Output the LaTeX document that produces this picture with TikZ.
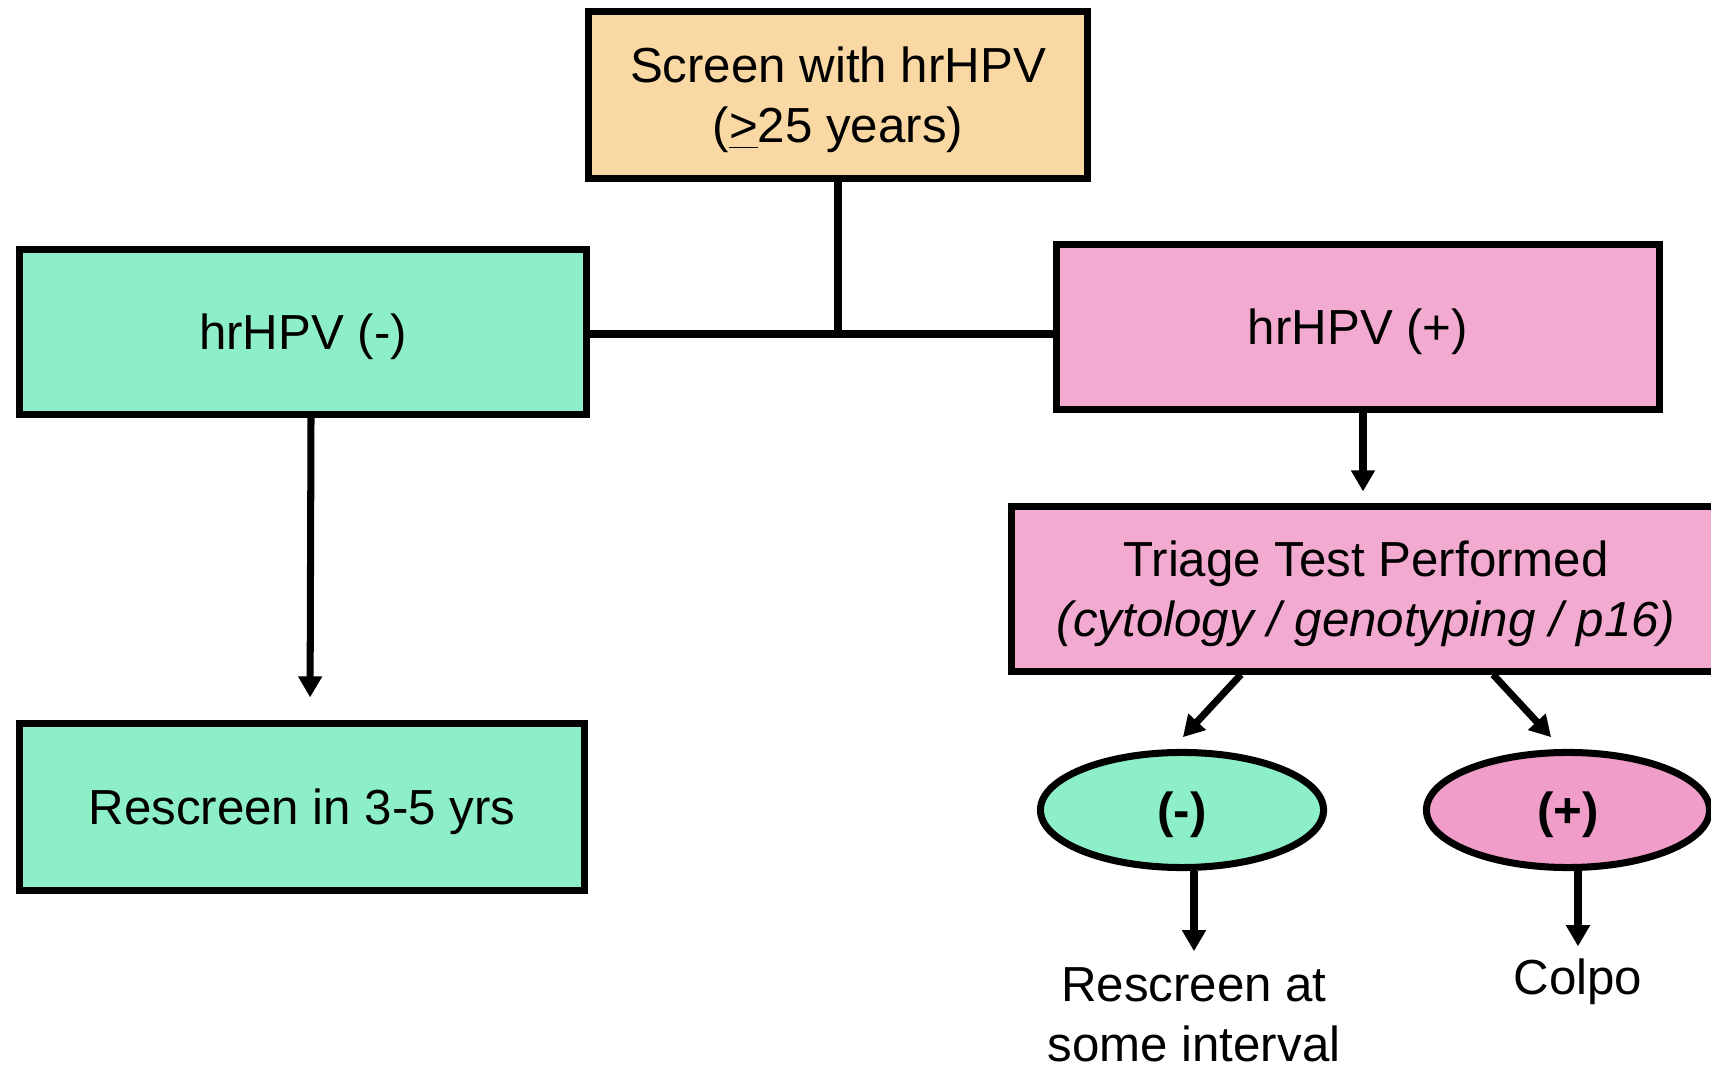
\documentclass[tikz,border=0pt]{standalone}
\usepackage{fontspec}
\setmainfont{Liberation Sans}
\usepackage{xcolor}
\usepackage{tikz}
\usetikzlibrary{calc,shapes.geometric,arrows.meta}

\definecolor{screentan}{HTML}{F9D8A4}
\definecolor{hpvgreen}{HTML}{8DEFC7}
\definecolor{hpvpink}{HTML}{F2AAD0}
\definecolor{ovalpink}{HTML}{F09DC9}

\begin{document}
\begin{tikzpicture}[x=0.01cm,y=-0.01cm,
                box/.style={draw=black,line width=2pt,align=center,inner sep=0pt,text depth=0pt,
                        font=\fontsize{14}{17}\selectfont},
                oval/.style={box,ellipse,minimum width=2.83cm,minimum height=1.15cm,
                        font=\fontsize{14}{17}\selectfont\bfseries},
                result/.style={align=center,inner sep=0pt,font=\fontsize{14}{17}\selectfont},
                link/.style={draw=black,line width=2pt},
                arr/.style={link,-{Triangle[length=6pt,width=6.5pt]}}]
                \useasboundingbox (0,0) rectangle (1711,1067);
                % boxes
                \node [box,fill=screentan,minimum width=4.99cm,minimum height=1.66cm] (screen) at (838,95)
                        {Screen with hrHPV\\(\underline{>}25 years)};
                \node [box,fill=hpvgreen,minimum width=5.66cm,minimum height=1.64cm] (hpvneg) at (303,332) {hrHPV (-)};
                \node [box,fill=hpvpink,minimum width=6.03cm,minimum height=1.65cm] (hpvpos) at (1358,327) {hrHPV (+)};
                \node [box,fill=hpvgreen,minimum width=5.64cm,minimum height=1.66cm] (rescreen) at (302,807) {Rescreen in 3-5 yrs};
                \node [box,fill=hpvpink,minimum width=7.08cm,minimum height=1.64cm] (triage) at (1366,589)
                        {Triage Test Performed\\\textit{(cytology / genotyping / p16)}};
                % triage results
                \node [oval,fill=hpvgreen] (ovalneg) at (1182,810) {(-)};
                \node [oval,fill=ovalpink] (ovalpos) at (1568,810) {(+)};
                \node [result] (interval) at (1194,1015) {Rescreen at\\some interval};
                \node [result] (colpo) at (1578,982) {Colpo};
                % connectors
                \coordinate (split) at (838,334);
                \draw [link] (screen) -- (split);
                \draw [link] (hpvneg.east |- split) -- (split) -- (hpvpos.west |- split);
                \draw [arr,shorten >=0.23cm] ([xshift=0.08cm]hpvneg.south) -- ([xshift=0.08cm]rescreen.north);
                \draw [arr,shorten >=0.12cm] ([xshift=0.05cm]hpvpos.south) -- ([xshift=0.05cm]hpvpos.south |- triage.north);
                \draw [arr,shorten >=0.16cm] ([xshift=-1.25cm]triage.south) -- ([xshift=-0.1cm]ovalneg.north);
                \draw [arr,shorten >=0.16cm] ([xshift=1.27cm]triage.south) -- ([xshift=-0.06cm]ovalpos.north);
                \draw [arr,shorten >=0.16cm] (interval.north |- ovalneg.south) -- (interval.north);
                \draw [arr,shorten >=0.12cm] (colpo.north |- ovalpos.south) -- (colpo.north);
\end{tikzpicture}
\end{document}
